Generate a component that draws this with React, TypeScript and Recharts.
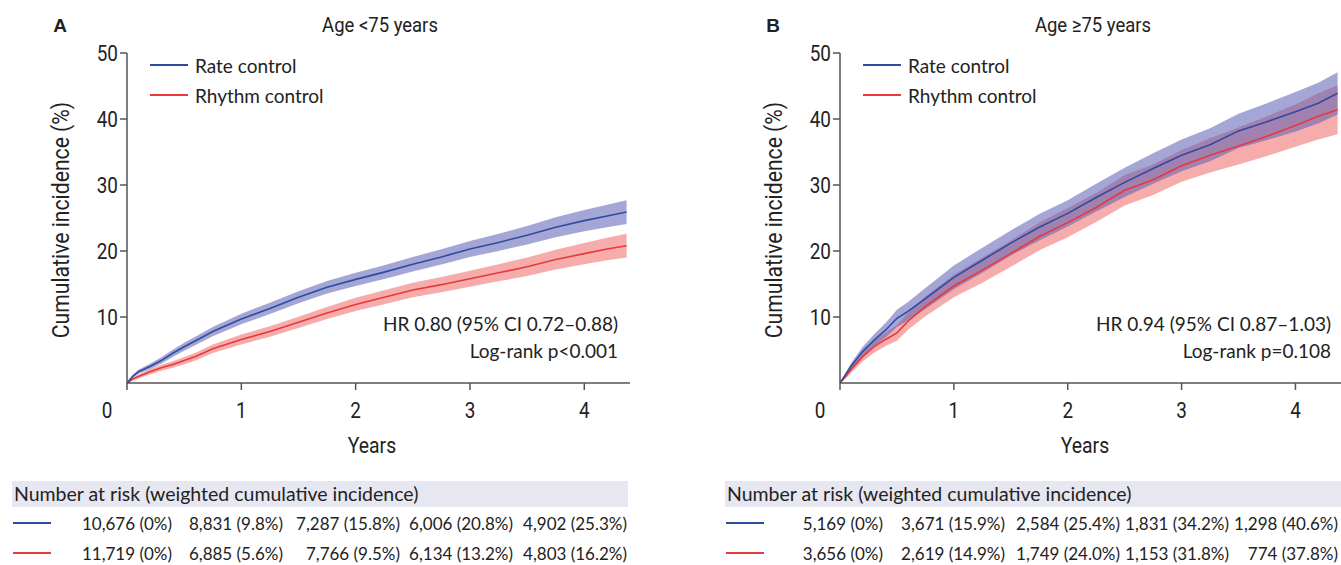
import React from "react";
import { ComposedChart, Area, Line, XAxis, YAxis } from "recharts";

// years of follow-up at which the curves were read
const timesA = [0, 0.05, 0.1, 0.2, 0.3, 0.4, 0.5, 0.6, 0.75, 1, 1.25, 1.5, 1.75, 2, 2.25, 2.5, 2.75, 3, 3.25, 3.5, 3.75, 4, 4.2, 4.37];
const timesB = [0, 0.05, 0.1, 0.2, 0.3, 0.4, 0.5, 0.6, 0.75, 1, 1.25, 1.5, 1.75, 2, 2.25, 2.5, 2.75, 3, 3.25, 3.5, 3.75, 4, 4.2, 4.37];

// Age <75: cumulative incidence (%) with 95% CI
const rateA = [0, 1.0, 1.7, 2.5, 3.4, 4.5, 5.5, 6.4, 7.8, 9.7, 11.3, 13.0, 14.5, 15.7, 16.8, 18.0, 19.1, 20.3, 21.3, 22.4, 23.6, 24.6, 25.3, 25.9];
const rateALow = [0, 0.8, 1.4, 2.1, 2.9, 3.95, 4.9, 5.75, 7.1, 8.9, 10.45, 12.1, 13.55, 14.7, 15.75, 16.9, 17.95, 19.1, 20.0, 21.0, 22.1, 23.0, 23.6, 24.1];
const rateAHigh = [0, 1.2, 2.0, 2.9, 3.9, 5.05, 6.1, 7.05, 8.5, 10.5, 12.15, 13.9, 15.45, 16.7, 17.85, 19.1, 20.25, 21.5, 22.6, 23.8, 25.1, 26.2, 27.0, 27.7];
const rhythmA = [0, 0.6, 1.0, 1.7, 2.3, 2.8, 3.4, 4.0, 5.2, 6.6, 7.8, 9.2, 10.6, 11.9, 13.0, 14.1, 14.9, 15.8, 16.7, 17.6, 18.7, 19.6, 20.3, 20.8];
const rhythmALow = [0, 0.4, 0.7, 1.3, 1.85, 2.3, 2.85, 3.4, 4.55, 5.85, 7.0, 8.35, 9.7, 10.9, 11.95, 13.0, 13.75, 14.6, 15.4, 16.2, 17.2, 18.0, 18.6, 19.0];
const rhythmAHigh = [0, 0.8, 1.3, 2.1, 2.75, 3.3, 3.95, 4.6, 5.85, 7.35, 8.6, 10.05, 11.5, 12.9, 14.05, 15.2, 16.05, 17.0, 18.0, 19.0, 20.2, 21.2, 22.0, 22.6];

// Age >=75
const rateB = [0, 1.3, 2.6, 4.8, 6.5, 8.0, 9.8, 10.9, 12.8, 16.0, 18.6, 21.2, 23.6, 25.7, 28.1, 30.4, 32.5, 34.5, 36.1, 38.2, 39.6, 41.1, 42.4, 43.9];
const rateBLow = [0, 1.0, 2.1, 4.1, 5.6, 6.9, 8.5, 9.5, 11.2, 14.2, 16.7, 19.3, 21.6, 23.7, 26.0, 28.2, 30.2, 32.1, 33.6, 35.6, 36.8, 38.1, 39.3, 40.7];
const rateBHigh = [0, 1.6, 3.1, 5.5, 7.4, 9.1, 11.1, 12.3, 14.4, 17.8, 20.5, 23.1, 25.6, 27.7, 30.2, 32.6, 34.8, 36.9, 38.6, 40.8, 42.4, 44.1, 45.5, 47.1];
const rhythmB = [0, 1.0, 2.1, 4.0, 5.5, 6.6, 7.6, 9.4, 11.6, 14.7, 17.1, 19.6, 22.2, 24.3, 26.6, 29.2, 30.8, 32.9, 34.5, 35.9, 37.4, 39.0, 40.4, 41.4];
const rhythmBLow = [0, 0.7, 1.6, 3.3, 4.6, 5.6, 6.4, 8.1, 10.1, 13.0, 15.2, 17.6, 20.1, 22.1, 24.4, 26.9, 28.5, 30.5, 31.9, 33.1, 34.4, 35.8, 36.9, 37.7];
const rhythmBHigh = [0, 1.3, 2.6, 4.7, 6.4, 7.6, 8.8, 10.7, 13.1, 16.4, 19.0, 21.6, 24.3, 26.5, 28.8, 31.5, 33.1, 35.3, 37.1, 38.7, 40.4, 42.2, 43.9, 45.1];

const xTicks = [0, 1, 2, 3, 4];
const yTicks = [10, 20, 30, 40, 50];

// number at risk tables
const riskRateA = ["10,676 (0%)", "8,831 (9.8%)", "7,287 (15.8%)", "6,006 (20.8%)", "4,902 (25.3%)"];
const riskRhythmA = ["11,719 (0%)", "6,885 (5.6%)", "7,766 (9.5%)", "6,134 (13.2%)", "4,803 (16.2%)"];
const riskRateB = ["5,169 (0%)", "3,671 (15.9%)", "2,584 (25.4%)", "1,831 (34.2%)", "1,298 (40.6%)"];
const riskRhythmB = ["3,656 (0%)", "2,619 (14.9%)", "1,749 (24.0%)", "1,153 (31.8%)", "774 (37.8%)"];

const BLUE = "#2f4b9f";
const BLUE_BAND = "#5a5fb4";
const RED = "#e8383c";
const RED_BAND = "#f05a5a";
const AXIS = "#555";
const NARROW = "Roboto, 'Liberation Sans', sans-serif";
const TEXT = "Lato, 'Open Sans', sans-serif";
const SQUEEZE = 0.86;

function buildRows(t: number[], r: number[], rl: number[], rh: number[], h: number[], hl: number[], hh: number[]) {
  return t.map((x, i) => ({
    t: x,
    rate: r[i],
    rateCI: [rl[i], rh[i]],
    rhythm: h[i],
    rhythmCI: [hl[i], hh[i]],
  }));
}

const dataA = buildRows(timesA, rateA, rateALow, rateAHigh, rhythmA, rhythmALow, rhythmAHigh);
const dataB = buildRows(timesB, rateB, rateBLow, rateBHigh, rhythmB, rhythmBLow, rhythmBHigh);

// narrow-looking tick labels (no condensed font installed)
const XTick = (props: any) => {
  const { x, y, payload } = props;
  const zero = payload.value === 0;
  return (
    <text
      transform={`translate(${zero ? x - 20 : x},${y + 26}) scale(${SQUEEZE},1)`}
      textAnchor="middle"
      fill="#222"
      fontSize={22}
      fontFamily={NARROW}
    >
      {payload.value}
    </text>
  );
};

const YTick = (props: any) => {
  const { x, y, payload } = props;
  return (
    <text
      transform={`translate(${x},${y + 8}) scale(${SQUEEZE},1)`}
      textAnchor="end"
      fill="#222"
      fontSize={22}
      fontFamily={NARROW}
    >
      {payload.value}
    </text>
  );
};

function T({ x, y, anchor = "start", size = 17, family = TEXT, weight = 400, squeeze = 1, children }: any) {
  const tx = anchor === "middle" ? "-50%" : anchor === "end" ? "-100%" : "0";
  const origin = anchor === "middle" ? "center" : anchor === "end" ? "right" : "left";
  return (
    <div
      style={{
        position: "absolute",
        left: x,
        top: y,
        transform: `translate(${tx}, -50%)`,
        fontSize: size,
        fontFamily: family,
        fontWeight: weight,
        lineHeight: 1,
        whiteSpace: "nowrap",
        color: "#222",
      }}
    >
      <div style={{ transform: `scaleX(${squeeze})`, transformOrigin: origin }}>{children}</div>
    </div>
  );
}

function Swatch({ x, y, color }: any) {
  return <div style={{ position: "absolute", left: x, top: y - 1.25, width: 38, height: 2.5, background: color }} />;
}

function Panel({ left, width, right, data, letter, title, hr, p, riskRate, riskRhythm, cols, tableLeft, tableRight }: any) {
  const axisX = left + 127;
  return (
    <>
      <div style={{ position: "absolute", left, top: 0 }}>
        <ComposedChart width={width} height={470} data={data} margin={{ top: 53, right, left: 27, bottom: 0 }}>
          <XAxis
            dataKey="t"
            type="number"
            domain={[0, 4.4]}
            ticks={xTicks}
            height={87}
            tickSize={7}
            tick={<XTick />}
            axisLine={{ stroke: AXIS, strokeWidth: 1.5 }}
            tickLine={{ stroke: AXIS, strokeWidth: 1.5 }}
            allowDataOverflow
          />
          <YAxis
            type="number"
            domain={[0, 50]}
            ticks={yTicks}
            width={100}
            tickSize={7}
            tick={<YTick />}
            axisLine={{ stroke: AXIS, strokeWidth: 1.5 }}
            tickLine={{ stroke: AXIS, strokeWidth: 1.5 }}
          />
          <Area dataKey="rhythmCI" type="linear" stroke="none" fill={RED_BAND} fillOpacity={0.5} isAnimationActive={false} legendType="none" activeDot={false} />
          <Area dataKey="rateCI" type="linear" stroke="none" fill={BLUE_BAND} fillOpacity={0.55} isAnimationActive={false} legendType="none" activeDot={false} />
          <Line dataKey="rhythm" type="linear" stroke={RED} strokeWidth={1.6} dot={false} isAnimationActive={false} />
          <Line dataKey="rate" type="linear" stroke={BLUE} strokeWidth={1.6} dot={false} isAnimationActive={false} />
        </ComposedChart>
      </div>

      <T x={left + 60} y={25} anchor="middle" size={19} family="'Liberation Sans', Arial, sans-serif" weight={700}>{letter}</T>
      <T x={left + 380} y={25} anchor="middle" size={21} family={NARROW} squeeze={0.88}>{title}</T>
      <div
        style={{
          position: "absolute",
          left: left + 62,
          top: 220,
          transform: "translate(-50%, -50%) rotate(-90deg) scaleX(0.9)",
          fontSize: 23.5,
          fontFamily: NARROW,
          lineHeight: 1,
          whiteSpace: "nowrap",
          color: "#222",
        }}
      >
        Cumulative incidence (%)
      </div>
      <T x={left + 372} y={446} anchor="middle" size={22} family={NARROW} squeeze={0.88}>Years</T>

      <Swatch x={axisX + 23} y={65} color={BLUE} />
      <T x={axisX + 68} y={65} size={19}>Rate control</T>
      <Swatch x={axisX + 23} y={95} color={RED} />
      <T x={axisX + 68} y={95} size={19}>Rhythm control</T>

      <T x={left + 618} y={323} anchor="end" size={19}>{hr}</T>
      <T x={left + 618} y={350} anchor="end" size={19}>{p}</T>

      <div style={{ position: "absolute", left: tableLeft, top: 481, width: tableRight - tableLeft, height: 26, background: "#e7e7f1" }} />
      <T x={tableLeft + 2} y={494} size={19.5}>Number at risk (weighted cumulative incidence)</T>
      <Swatch x={tableLeft + 1} y={523} color={BLUE} />
      <Swatch x={tableLeft + 1} y={553} color={RED} />
      {riskRate.map((s: string, i: number) => (
        <T key={"a" + i} x={cols[i]} y={523} anchor="end">{s}</T>
      ))}
      {riskRhythm.map((s: string, i: number) => (
        <T key={"b" + i} x={cols[i]} y={553} anchor="end">{s}</T>
      ))}
    </>
  );
}

export default function App() {
  return (
    <div style={{ position: "absolute", left: 0, top: 0, width: 1341, height: 565, background: "#fff", overflow: "hidden" }}>
      <Panel
        left={0}
        width={640}
        right={10}
        data={dataA}
        letter="A"
        title="Age <75 years"
        hr="HR 0.80 (95% CI 0.72–0.88)"
        p="Log-rank p<0.001"
        riskRate={riskRateA}
        riskRhythm={riskRhythmA}
        cols={[172, 283, 400, 513, 627]}
        tableLeft={12}
        tableRight={628}
      />
      <Panel
        left={713}
        width={628}
        right={0}
        data={dataB}
        letter="B"
        title="Age ≥75 years"
        hr="HR 0.94 (95% CI 0.87–1.03)"
        p="Log-rank p=0.108"
        riskRate={riskRateB}
        riskRhythm={riskRhythmB}
        cols={[883, 1005, 1120, 1229, 1338]}
        tableLeft={725}
        tableRight={1341}
      />
    </div>
  );
}
